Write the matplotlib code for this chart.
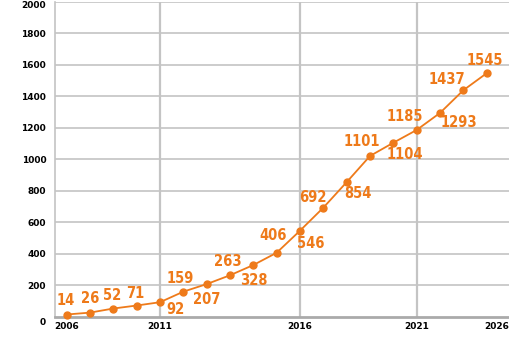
import matplotlib
matplotlib.use("Agg")
import matplotlib.pyplot as plt
from matplotlib import font_manager
from matplotlib.transforms import ScaledTranslation

# data: one value per step along the x axis
values = [14, 26, 52, 71, 92, 159, 207, 263, 328, 406,
          546, 692, 854, 1020, 1104, 1185, 1293, 1437, 1545]
# value labels as printed on the chart (the 14th label does not match its point)
labels = ['14', '26', '52', '71', '92', '159', '207', '263', '328', '406',
          '546', '692', '854', '1101', '1104', '1185', '1293', '1437', '1545']
tick_pos = [0, 4, 10, 15, 18.43]
tick_labels = ['2006', '2011', '2016', '2021', '2026']
y_ticks = [0, 200, 400, 600, 800, 1000, 1200, 1400, 1600, 1800, 2000]

# label offsets in pixels (dx, dy)
offsets = [(-1, 14), (0, 14), (-1, 13), (-1, 12), (15, -7), (-3, 13), (0, -15),
           (-2, 14), (0, -15), (-4, 17), (11, -13), (-10, 10), (11, -11),
           (-8, 14), (11, -12), (-12, 13), (19, -10), (-16, 11), (-2, 13)]

orange = '#EE7A1A'
grid_c = '#C4C4C4'

# look for a narrow bold sans face for the value labels
def is_bold(f):
    w = f.weight
    return (isinstance(w, int) and w >= 600) or (isinstance(w, str) and 'bold' in w)

best = None
best_score = -1
for f in font_manager.fontManager.ttflist:
    n = f.name.lower()
    fn = f.fname.lower()
    if 'serif' in n or 'mono' in n or 'serif' in fn or 'mono' in fn:
        continue
    narrowish = ('narrow' in n or 'condensed' in n or 'narrow' in fn or 'condensed' in fn
                 or f.stretch in ('condensed', 'semi-condensed'))
    if not narrowish or not is_bold(f) or 'oblique' in fn or 'italic' in fn:
        continue
    score = 1
    if 'liberation' in n or 'arial' in n:
        score = 3
    elif 'dejavu' in n:
        score = 2
    if score > best_score:
        best, best_score = f, score

if best is not None:
    lab_prop = font_manager.FontProperties(fname=best.fname, size=10.5)
else:
    lab_prop = font_manager.FontProperties(family='Liberation Sans', weight='bold', size=9.5)

fig = plt.figure(figsize=(5.1, 3.4), dpi=100)
ax = fig.add_axes([0.107, 0.0685, 0.893, 0.927])

x = list(range(len(values)))
ax.plot(x, values, color=orange, lw=1.3, marker='o', ms=5, zorder=3, clip_on=False)

for i, v in enumerate(values):
    dx, dy = offsets[i]
    ax.annotate(labels[i], (i, v), xytext=(dx * 0.72, dy * 0.72), textcoords='offset points',
                ha='center', va='center', color=orange, fontproperties=lab_prop, zorder=4)

ax.set_xlim(-0.52, 19.0)
ax.set_ylim(0, 2000)
ax.set_yticks(y_ticks)
ax.set_yticklabels([str(t) for t in y_ticks], fontsize=6.5, fontweight='bold')
ax.set_xticks(tick_pos)
ax.set_xticklabels(tick_labels, fontsize=6.5, fontweight='bold')
ax.tick_params(length=0, pad=6)
ax.tick_params(axis='x', pad=4)

ylabs = ax.get_yticklabels()
ylabs[0].set_transform(ylabs[0].get_transform() + ScaledTranslation(0, -0.05, fig.dpi_scale_trans))
ylabs[-1].set_transform(ylabs[-1].get_transform() + ScaledTranslation(0, -0.03, fig.dpi_scale_trans))

for yt in y_ticks[1:]:
    ax.axhline(yt, color=grid_c, lw=1.2, zorder=1)
for xt in tick_pos[1:4]:
    ax.axvline(xt, color=grid_c, lw=1.6, zorder=1)

for s in ['top', 'right']:
    ax.spines[s].set_visible(False)
ax.spines['left'].set_color(grid_c)
ax.spines['left'].set_linewidth(1.2)
ax.spines['bottom'].set_color('#AAAAAA')
ax.spines['bottom'].set_linewidth(2)

fig.savefig('out.png', dpi=100)
